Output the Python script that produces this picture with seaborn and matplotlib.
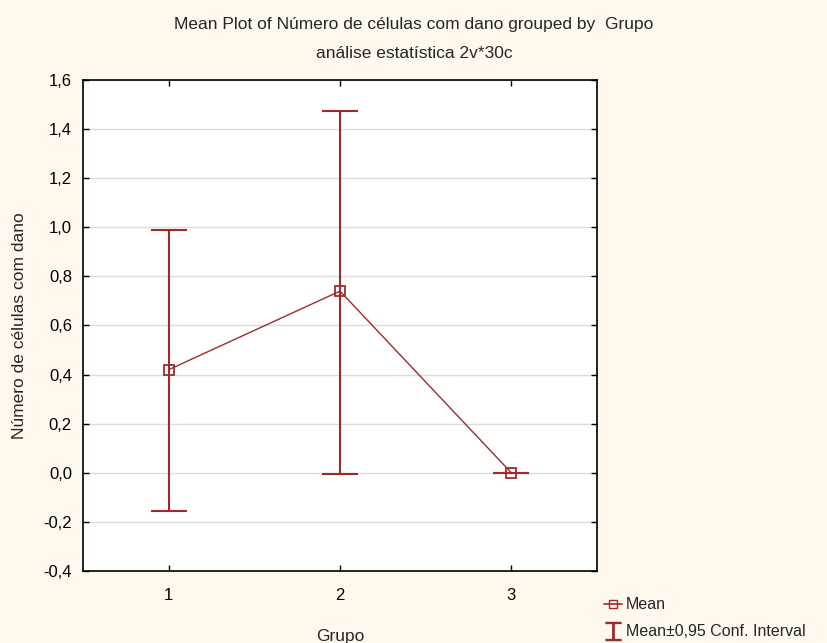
import matplotlib
matplotlib.use("Agg")
import numpy as np
import pandas as pd
import seaborn as sns
import matplotlib.pyplot as plt
from matplotlib.lines import Line2D

grupo = [1, 2, 3]
media = [0.42, 0.74, 0.0]
ci_low = [-0.155, -0.005, 0.0]
ci_high = [0.99, 1.475, 0.0]

df = pd.DataFrame({"Grupo": grupo, "Media": media, "lo": ci_low, "hi": ci_high})

sns.set_style("white")
plt.rcParams['font.family'] = ['Liberation Sans', 'DejaVu Sans']

cor = "#9E2A2B"
fig = plt.figure(figsize=(8.28, 6.43), dpi=100, facecolor="#FFF8EE")
ax = fig.add_axes([83 / 828, 1 - 571 / 643, (597 - 83) / 828, (571 - 80) / 643])
ax.set_facecolor("white")

sns.lineplot(data=df, x="Grupo", y="Media", ax=ax, color=cor, lw=1.0,
             marker="s", markersize=7, markerfacecolor="none",
             markeredgecolor=cor, markeredgewidth=1.3, zorder=4)
ax.errorbar(df["Grupo"], df["Media"],
            yerr=[df["Media"] - df["lo"], df["hi"] - df["Media"]],
            fmt="none", ecolor=cor, elinewidth=1.5, capsize=13, capthick=1.5, zorder=3)

ax.set_xlim(0.5, 3.5)
ax.set_ylim(-0.4, 1.6)
ax.set_xticks(grupo)
yt = np.arange(-0.4, 1.61, 0.2)
ax.set_yticks(yt)
ax.set_yticklabels([f"{v:.1f}".replace(".", ",").replace("-0,0", "0,0") for v in yt])
ax.yaxis.grid(True, color="#DDDDDD", lw=1)
ax.set_axisbelow(True)
ax.tick_params(direction="in", length=4, width=1, top=True, right=True, bottom=True, left=True,
               labelsize=12, colors="black", pad=8)
ax.tick_params(axis="x", pad=12)
for s in ax.spines.values():
    s.set_color("black")
    s.set_linewidth(1.2)

ax.set_xlabel("Grupo", fontsize=12.5, labelpad=19)
ax.set_ylabel("Número de células com dano", fontsize=12.5, labelpad=12)

fig.text(0.5, 1 - 25 / 643, "Mean Plot of Número de células com dano grouped by  Grupo",
         ha="center", va="center", fontsize=12.5)
fig.text(0.5, 1 - 53 / 643, "análise estatística 2v*30c", ha="center", va="center", fontsize=12.5)

h_mean = Line2D([], [], color=cor, lw=1.2, marker="s", markersize=6,
                markerfacecolor="none", markeredgecolor=cor)
h_ci = Line2D([], [], color=cor, lw=0, marker="$\u2336$", markersize=13)
fig.legend([h_mean, h_ci], ["Mean", "Mean±0,95 Conf. Interval"],
           loc="lower left", bbox_to_anchor=(598 / 828, -0.004), frameon=False,
           fontsize=11.5, handlelength=1.1, handletextpad=0.25, labelspacing=0.75,
           borderaxespad=0.0)

fig.savefig("out.png", dpi=100, facecolor=fig.get_facecolor())
